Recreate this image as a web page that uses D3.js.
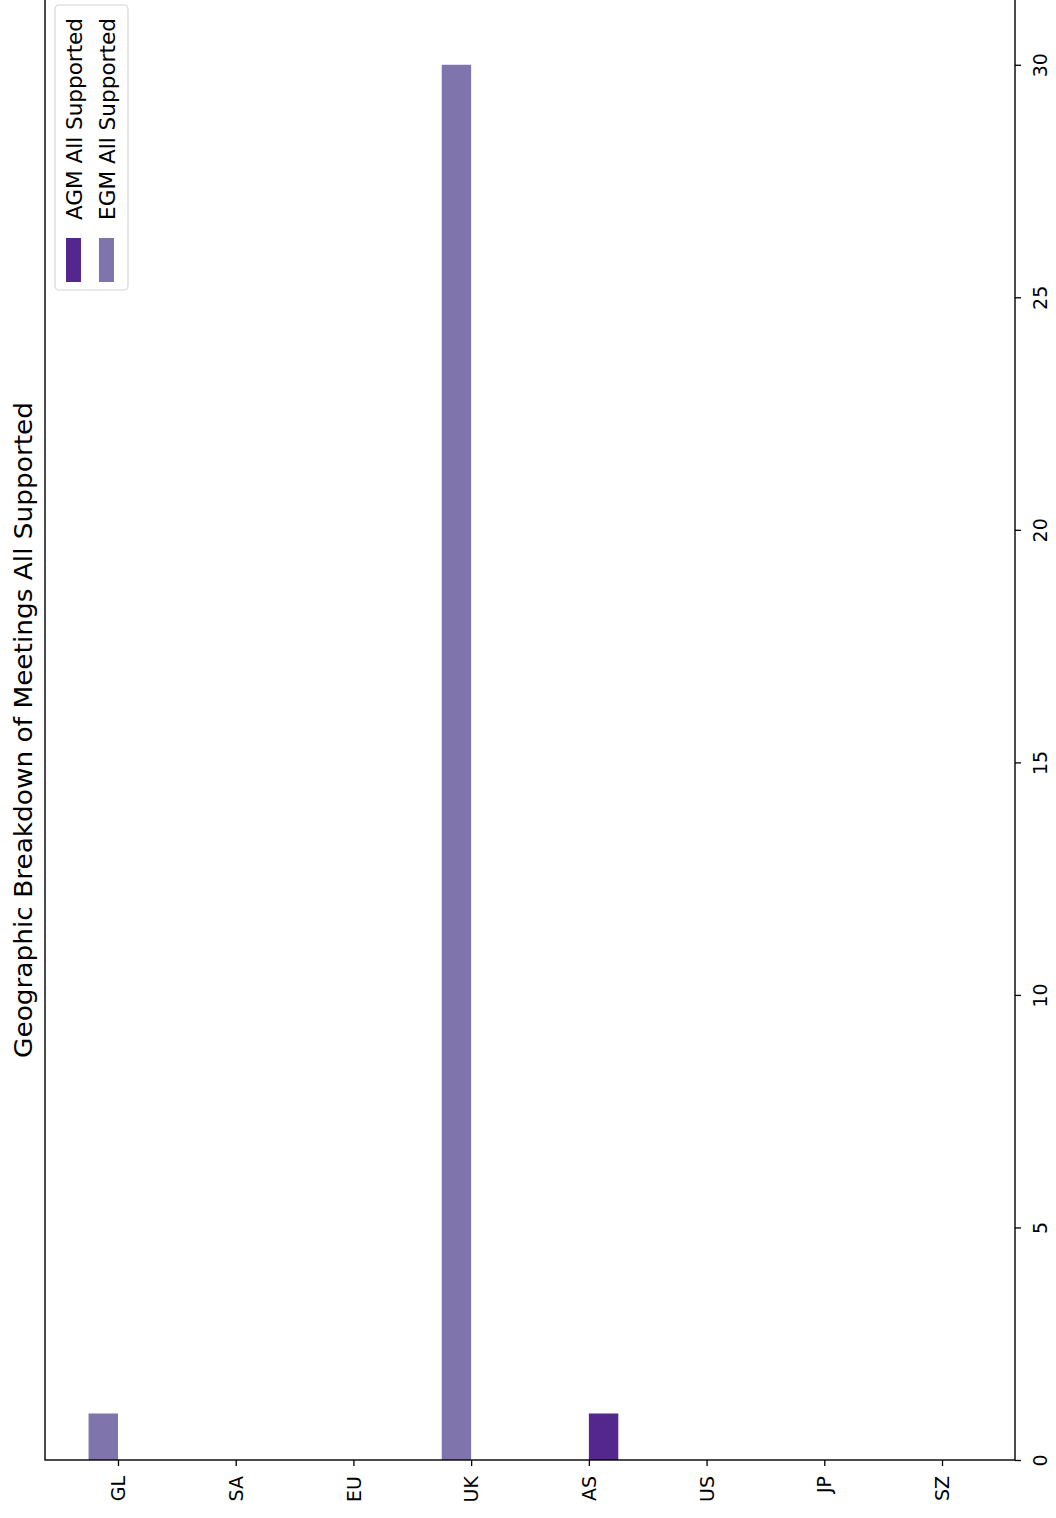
<!DOCTYPE html>
<html>
<head>
<meta charset="utf-8">
<script src="https://cdn.jsdelivr.net/npm/d3@7"></script>
<style>
  body { margin: 0; background: #fff; }
  text { font-family: "DejaVu Sans", sans-serif; fill: #000; }
</style>
</head>
<body>
<div id="chart"></div>
<script>
// DATA
const regions = ['GL', 'SA', 'EU', 'UK', 'AS', 'US', 'JP', 'SZ'];
const agmValues = [0, 0, 0, 0, 1, 0, 0, 0];
const egmValues = [1, 0, 0, 30, 0, 0, 0, 0];
const valueTicks = [0, 5, 10, 15, 20, 25, 30];
const seriesNames = ['AGM All Supported', 'EGM All Supported'];
const seriesColors = ['#54278f', '#7f74ac'];
const title = 'Geographic Breakdown of Meetings All Supported';

const width = 1056;
const height = 1518;

// frame of the axes (page coords, chart is drawn turned on its side)
const frameLeft = 45, frameRight = 1015, frameBottom = 1460, frameTop = -5;

let svg = d3.select('#chart').append('svg')
  .attr('width', width)
  .attr('height', height);

const x = d3.scaleLinear()
  .domain([-0.62, regions.length - 1 + 0.62])
  .range([frameLeft, frameRight]);

const y = d3.scaleLinear()
  .domain([0, 31.5])
  .range([frameBottom, frameTop]);

const barW = 0.25;

// bars: EGM sits before the tick, AGM after it
const series = [
  { name: seriesNames[0], color: seriesColors[0], values: agmValues, off: 0 },
  { name: seriesNames[1], color: seriesColors[1], values: egmValues, off: -barW }
];

series.forEach(function(s) {
  svg.append('g')
    .selectAll('rect')
    .data(s.values)
    .enter()
    .append('rect')
    .attr('x', (d, i) => x(i + s.off))
    .attr('width', x(barW) - x(0))
    .attr('y', d => y(d))
    .attr('height', d => y(0) - y(d))
    .style('fill', s.color);
});

// frame
svg.append('rect')
  .attr('x', frameLeft)
  .attr('y', frameTop)
  .attr('width', frameRight - frameLeft)
  .attr('height', frameBottom - frameTop)
  .style('fill', 'none')
  .style('stroke', '#000')
  .style('stroke-width', 1.4);

// category axis (bottom)
let catAxis = svg.append('g')
  .attr('transform', `translate(0, ${frameBottom})`)
  .call(d3.axisBottom(x)
    .tickValues(d3.range(regions.length))
    .tickFormat(i => regions[i])
    .tickSize(6));
catAxis.select('.domain').remove();
catAxis.selectAll('line').style('stroke', '#000').style('stroke-width', 1.3);
catAxis.selectAll('text')
  .attr('transform', 'rotate(-90)')
  .attr('x', -16)
  .attr('y', 0)
  .attr('dy', '0.35em')
  .style('text-anchor', 'end')
  .style('font-size', '19px')
  .style('font-family', '"DejaVu Sans", sans-serif')
  .style('fill', '#000');

// value axis (right)
let valAxis = svg.append('g')
  .attr('transform', `translate(${frameRight}, 0)`)
  .call(d3.axisRight(y)
    .tickValues(valueTicks)
    .tickFormat(d3.format('d'))
    .tickSize(6));
valAxis.select('.domain').remove();
valAxis.selectAll('line').style('stroke', '#000').style('stroke-width', 1.3);
valAxis.selectAll('text')
  .attr('transform', 'rotate(-90)')
  .attr('x', 0)
  .attr('y', 32)
  .attr('dy', 0)
  .style('text-anchor', 'middle')
  .style('font-size', '19px')
  .style('font-family', '"DejaVu Sans", sans-serif')
  .style('fill', '#000');

// title
svg.append('text')
  .attr('transform', `translate(32, ${(402 + 1058) / 2}) rotate(-90)`)
  .attr('textLength', 656)
  .attr('lengthAdjust', 'spacingAndGlyphs')
  .style('text-anchor', 'middle')
  .style('font-size', '25px')
  .text(title);

// legend
let legend = svg.append('g');
legend.append('rect')
  .attr('x', 55)
  .attr('y', 5)
  .attr('width', 73)
  .attr('height', 285)
  .attr('rx', 4)
  .style('fill', '#fff')
  .style('fill-opacity', 0.8)
  .style('stroke', '#d6d6d6')
  .style('stroke-width', 1.2);

let item = legend.selectAll('g.item')
  .data(series)
  .enter()
  .append('g')
  .attr('class', 'item')
  .attr('transform', (d, i) => `translate(${66 + i * 33}, 0)`);

item.append('rect')
  .attr('x', 0)
  .attr('y', 238)
  .attr('width', 15)
  .attr('height', 44)
  .style('fill', d => d.color);

item.append('text')
  .attr('transform', 'translate(16, 220) rotate(-90)')
  .attr('textLength', 202)
  .attr('lengthAdjust', 'spacingAndGlyphs')
  .style('font-size', '22px')
  .text(d => d.name);
</script>
</body>
</html>
